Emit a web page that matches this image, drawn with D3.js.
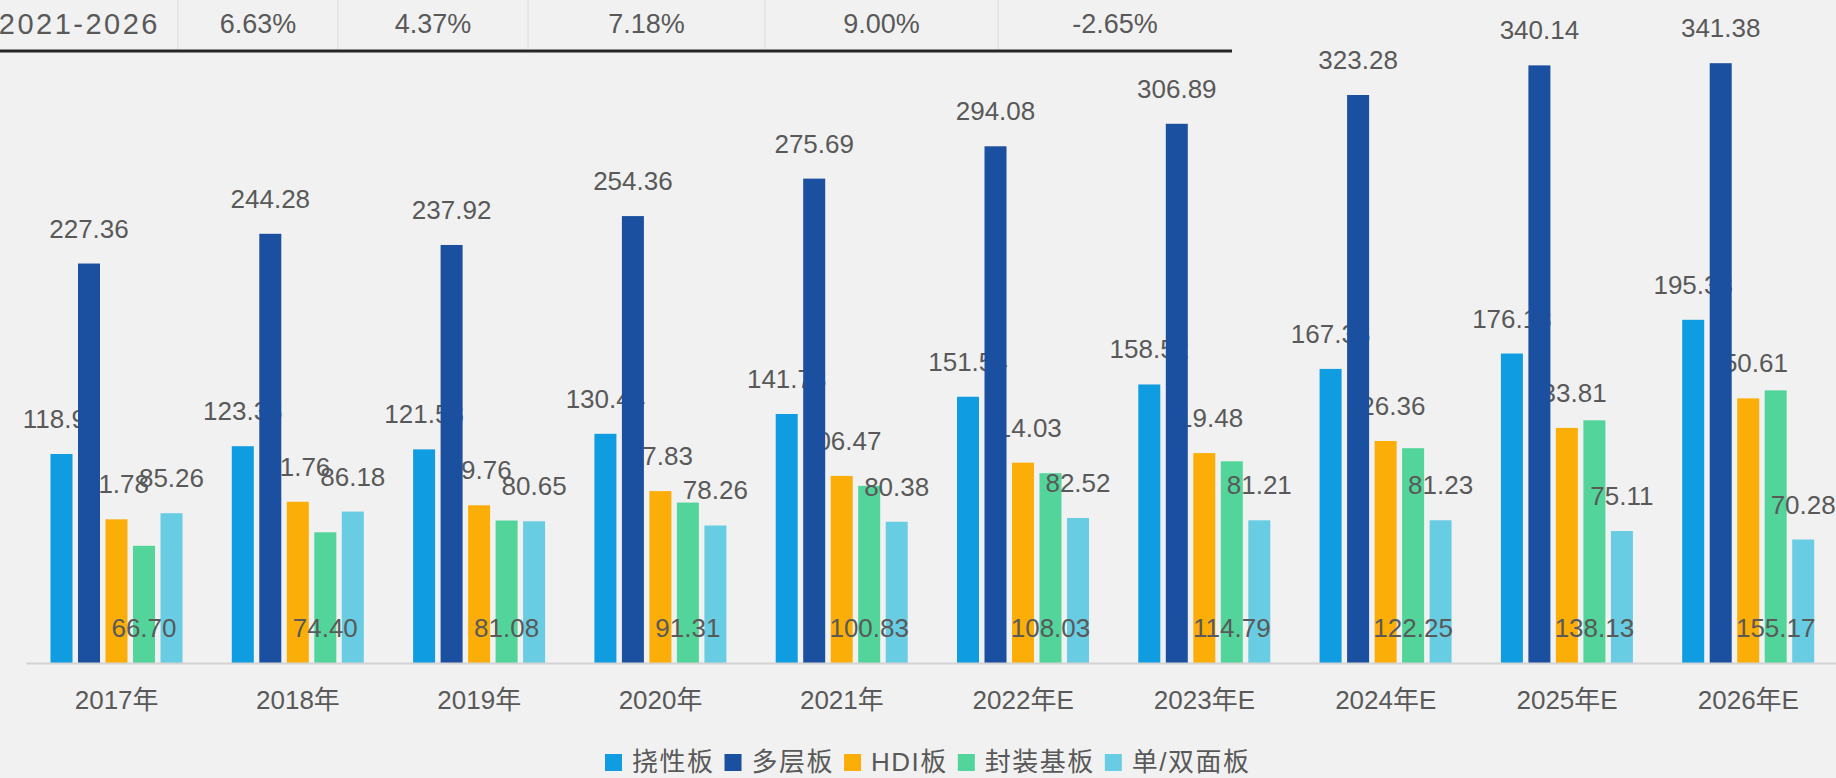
<!DOCTYPE html>
<html>
<head>
<meta charset="utf-8">
<script src="https://cdn.jsdelivr.net/npm/d3@7/dist/d3.min.js"></script>
<style>
  html, body { margin: 0; padding: 0; background: #f1f1f1; overflow: hidden; }
  svg { display: block; }
  text { font-family: "Liberation Sans", Arial, "Noto Sans CJK SC", sans-serif; fill: #595959; }
</style>
</head>
<body>
<svg id="chart" width="1836" height="778"></svg>
<script>
// ---- data ----
const categories = ["2017年","2018年","2019年","2020年","2021年","2022年E","2023年E","2024年E","2025年E","2026年E"];
const seriesNames = ["挠性板","多层板","HDI板","封装基板","单/双面板"];
const flexible   = [118.96,123.38,121.58,130.44,141.73,151.54,158.52,167.38,176.13,195.33];
const multilayer = [227.36,244.28,237.92,254.36,275.69,294.08,306.89,323.28,340.14,341.38];
const hdi        = [81.78,91.76,89.76,97.83,106.47,114.03,119.48,126.36,133.81,150.61];
const substrate  = [66.70,74.40,81.08,91.31,100.83,108.03,114.79,122.25,138.13,155.17];
const singleDouble = [85.26,86.18,80.65,78.26,80.38,82.52,81.21,81.23,75.11,70.28];
const cagrLabel = "2021-2026";
const cagrValues = ["6.63%","4.37%","7.18%","9.00%","-2.65%"];
const colors = ["#0f9ce0","#1b4fa0","#fbae08","#52d49b","#68cde2"];

const seriesValues = [flexible, multilayer, hdi, substrate, singleDouble];

const svg = d3.select("#chart");
const baseY = 663;

const x0 = d3.scaleBand().domain(categories).range([26, 1839]).paddingInner(0).paddingOuter(0);
const x1 = d3.scaleBand().domain(seriesNames).range([24.5, 156.5]).paddingInner(0.2).paddingOuter(0);
const y = d3.scaleLinear().domain([0, 350]).range([baseY, baseY - 350 * 1.757]);

// flat rows
const rows = [];
categories.forEach((c, i) => {
  seriesNames.forEach((s, j) => {
    rows.push({cat: c, s: s, j: j, v: seriesValues[j][i]});
  });
});

const fmt = d3.format(".2f");
const labelX = d => x0(d.cat) + x1(d.s) + x1.bandwidth() / 2;
const labelY = d => (d.j === 3 ? y(0) : y(d.v)) - 35;

// table row at top
const cellEdges = [178, 338, 528, 765, 998, 1232];
const tbl = svg.append("g");
tbl.selectAll("line.sep").data(cellEdges.slice(0, 5)).join("line")
  .attr("x1", d => d).attr("x2", d => d).attr("y1", 0).attr("y2", 49)
  .attr("stroke", "#dcdcdc").attr("stroke-width", 1);
tbl.append("line").attr("x1", 0).attr("x2", 1232).attr("y1", 51).attr("y2", 51)
  .attr("stroke", "#262626").attr("stroke-width", 3);
tbl.append("text").attr("x", 160).attr("y", 24).attr("dominant-baseline", "central")
  .attr("text-anchor", "end").style("font-size", "29px").style("letter-spacing", "2.5px").text(cagrLabel);
tbl.selectAll("text.val").data(cagrValues).join("text")
  .attr("class", "val")
  .attr("x", (d, i) => (cellEdges[i] + cellEdges[i + 1]) / 2)
  .attr("y", 24).attr("dominant-baseline", "central").attr("text-anchor", "middle")
  .style("font-size", "27px").text(d => d);

// labels behind bars (挠性板, HDI板)
const labelsBehind = rows.filter(d => d.j === 0 || d.j === 2);
const labelsFront = rows.filter(d => !(d.j === 0 || d.j === 2));

svg.append("g").selectAll("text").data(labelsBehind).join("text")
  .attr("x", labelX).attr("y", labelY)
  .attr("text-anchor", "middle").attr("dominant-baseline", "central")
  .style("font-size", "26px").text(d => fmt(d.v));

// bars
svg.append("g").selectAll("rect").data(rows).join("rect")
  .attr("x", d => x0(d.cat) + x1(d.s))
  .attr("width", x1.bandwidth())
  .attr("y", d => y(d.v))
  .attr("height", d => y(0) - y(d.v))
  .attr("fill", d => colors[d.j]);

// labels in front
svg.append("g").selectAll("text").data(labelsFront).join("text")
  .attr("x", labelX).attr("y", labelY)
  .attr("text-anchor", "middle").attr("dominant-baseline", "central")
  .style("font-size", "26px").text(d => fmt(d.v));

// axis
const axis = svg.append("g").attr("transform", `translate(0,${baseY})`)
  .call(d3.axisBottom(x0).tickSize(0).tickSizeOuter(0));
axis.select(".domain").attr("stroke", "#d4d4d4").attr("stroke-width", 2);
axis.selectAll(".tick text")
  .attr("y", 37).attr("dy", "0.35em")
  .style("font-size", "26px").style("fill", "#595959")
  .style("font-family", "'Liberation Sans', Arial, 'Noto Sans CJK SC', sans-serif");

// legend
const legend = svg.append("g").attr("transform", "translate(0,762)");
let lx = 605;
seriesNames.forEach((name, j) => {
  legend.append("rect").attr("x", lx).attr("y", -8).attr("width", 17).attr("height", 17).attr("fill", colors[j]);
  const t = legend.append("text").attr("x", lx + 27).attr("y", 0).attr("dominant-baseline", "central")
    .style("font-size", "26px").style("letter-spacing", "1.5px").text(name);
  lx += 27 + t.node().getComputedTextLength() + 10;
});
</script>
</body>
</html>
